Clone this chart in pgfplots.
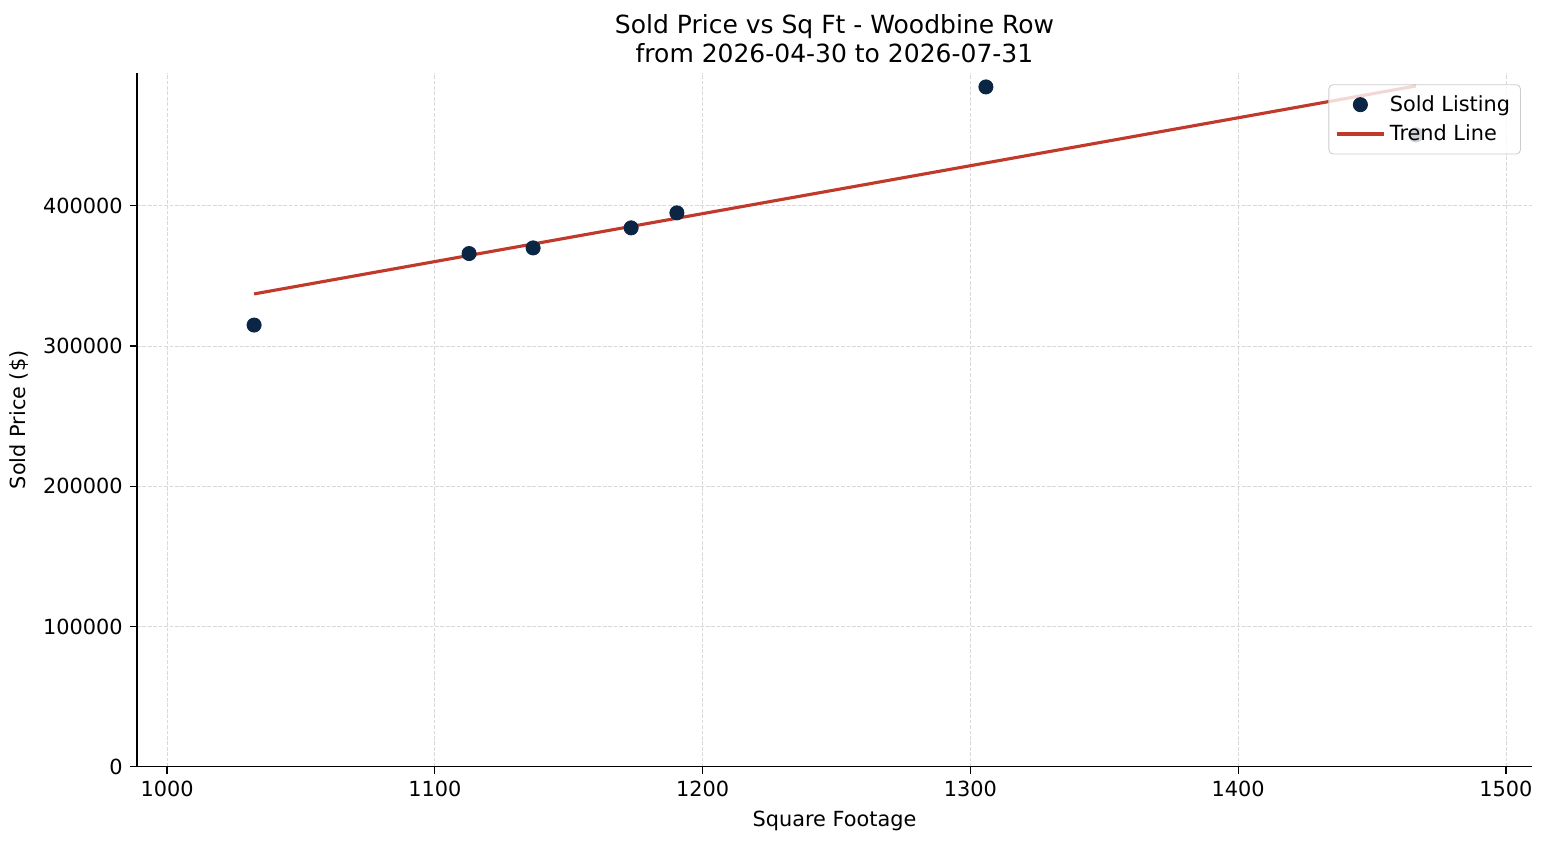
\documentclass[border=0pt]{standalone}
\usepackage{fontspec}
\setmainfont{DejaVu Sans}
\usepackage{pgfplots}
\pgfplotsset{compat=1.18}
\definecolor{dotnavy}{HTML}{0B2545}
\definecolor{trendred}{HTML}{C0392B}
\pgfplotsset{
	markleg/.style={legend image code/.code={\draw[##1] plot coordinates {(0.4cm,0cm)};}},
	lineleg/.style={legend image code/.code={\draw[##1] (0cm,0cm) -- (0.8cm,0cm);}},
}
\begin{document}
\begin{tikzpicture}
\begin{axis}[
	scale only axis,
	width=669.6pt, height=333.1pt,
	xmin=988.8, xmax=1509.7,
	ymin=0, ymax=494800,
	xtick={1000,1100,1200,1300,1400,1500},
	ytick={0,100000,200000,300000,400000},
	scaled ticks=false,
	/pgf/number format/fixed,
	/pgf/number format/precision=0,
	/pgf/number format/1000 sep={},
	/pgf/number format/assume math mode=true,
	tick label style={font=\fontsize{10}{12}\selectfont},
	axis x line*=bottom, axis y line*=left,
	axis line style={-, black, line width=0.6pt},
	tick style={black, line width=0.6pt},
	tick align=outside,
	major tick length=3.4pt,
	grid=major,
	major grid style={color=black!15, dash pattern=on 1.8pt off 0.8pt, line width=0.35pt},
	xlabel={Square Footage},
	ylabel={Sold Price (\$)},
	label style={font=\fontsize{10}{12}\selectfont},
	title={Sold Price vs Sq Ft - Woodbine Row\\from 2026-04-30 to 2026-07-31},
	title style={font=\fontsize{12}{13.5}\selectfont, align=center, yshift=-4.5pt},
	legend style={at={(rel axis cs:1,1)}, anchor=north east, xshift=-5.3pt, yshift=-5.5pt,
		draw=black!20, rounded corners=2pt, fill=white, fill opacity=0.8, text opacity=1,
		font=\fontsize{10}{12}\selectfont, row sep=1pt, inner sep=3pt},
	legend image post style={fill opacity=1, draw opacity=1},
	legend cell align=left,
	clip=false,
]
\addplot[only marks, mark=*, mark size=3.4pt, color=dotnavy, markleg] coordinates
{(1032.5,315000) (1112.8,366000) (1136.7,370000) (1173.3,384300) (1190.4,395000) (1305.8,484800) (1466.4,450600)};
\addlegendentry{Sold Listing}
\addplot[trendred, line width=1.5pt, lineleg] coordinates
{(1032.5,337200) (1466.4,485500)};
\addlegendentry{Trend Line}
\path ([shift={(-65.8pt,-37.4pt)}]rel axis cs:0,0) rectangle ([shift={(8.2pt,35pt)}]rel axis cs:1,1);
\end{axis}
\end{tikzpicture}
\end{document}
